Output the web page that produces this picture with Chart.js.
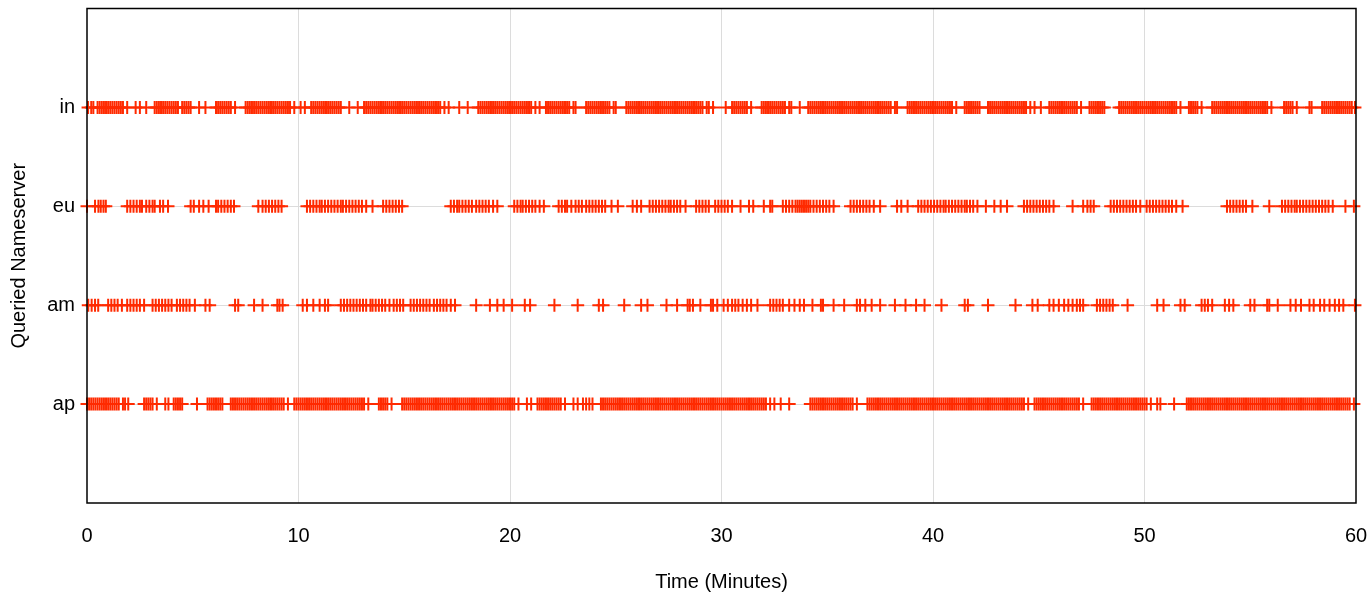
<!DOCTYPE html>
<html>
<head>
<meta charset="utf-8">
<script src="https://cdn.jsdelivr.net/npm/chart.js@4"></script>
<style>
  html, body { margin: 0; padding: 0; background: #fff; }
  #wrap { width: 1369px; height: 598px; }
</style>
</head>
<body>
<div id="wrap"><canvas id="chart"></canvas></div>
<script>
// nameservers, bottom to top
const servers = ['ap', 'am', 'eu', 'in'];
const xTicks = [0, 10, 20, 30, 40, 50, 60];

// query times (minutes) per nameserver
const inTimes = [0.05,0.2,0.3,0.5,0.6,0.7,0.8,0.9,1.0,1.1,1.2,1.3,1.4,1.5,1.6,1.7,1.9,
  2.3,2.5,2.8,
  3.2,3.3,3.4,3.5,3.6,3.7,3.8,3.9,4.0,4.1,4.2,4.3,4.5,4.6,4.7,4.8,4.9,
  5.3,5.6,
  6.1,6.2,6.3,6.4,6.5,6.6,6.7,6.8,7.0,
  7.5,7.6,7.7,7.8,7.9,8.0,8.1,8.2,8.3,8.4,8.5,8.6,8.7,8.8,8.9,9.0,9.1,9.2,9.3,9.4,9.5,9.6,9.8,
  10.1,10.3,
  10.6,10.7,10.8,10.9,11.0,11.1,11.2,11.3,11.4,11.5,11.6,11.7,11.8,11.9,12.0,
  12.4,12.8,
  13.1,13.2,13.3,13.4,13.5,13.6,13.7,13.8,13.9,14.0,14.1,14.2,14.3,14.4,14.5,14.6,14.7,14.8,14.9,15.0,15.1,15.2,15.3,15.4,15.5,15.6,15.7,15.8,15.9,16.0,16.1,16.2,16.3,16.4,16.5,16.6,16.7,16.9,17.1,
  17.6,18.0,
  18.5,18.6,18.7,18.8,18.9,19.0,19.1,19.2,19.3,19.4,19.5,19.6,19.7,19.8,19.9,20.0,20.1,20.2,20.3,20.4,20.5,20.6,20.7,20.8,20.9,21.0,21.2,21.4,
  21.7,21.8,21.9,22.0,22.1,22.2,22.3,22.4,22.5,22.6,22.7,22.8,23.0,23.1,
  23.6,23.7,23.8,23.9,24.0,24.1,24.2,24.3,24.4,24.5,24.6,24.7,24.9,25.0,
  25.5,25.6,25.7,25.8,25.9,26.0,26.1,26.2,26.3,26.4,26.5,26.6,26.7,26.8,26.9,27.0,27.1,27.2,27.3,27.4,27.5,27.6,27.7,27.8,27.9,28.0,28.1,28.2,28.3,28.4,28.5,28.6,28.7,28.8,28.9,29.0,29.1,29.3,29.4,
  29.6,30.2,
  30.5,30.6,30.7,30.8,30.9,31.0,31.1,31.2,31.4,
  31.9,32.0,32.1,32.2,32.3,32.4,32.5,32.6,32.7,32.8,32.9,33.0,33.2,33.3,
  33.7,
  34.1,34.2,34.3,34.4,34.5,34.6,34.7,34.8,34.9,35.0,35.1,35.2,35.3,35.4,35.5,35.6,35.7,35.8,35.9,36.0,36.1,36.2,36.3,36.4,36.5,36.6,36.7,36.8,36.9,37.0,37.1,37.2,37.3,37.4,37.5,37.6,37.7,37.8,37.9,38.0,38.2,38.3,
  38.8,38.9,39.0,39.1,39.2,39.3,39.4,39.5,39.6,39.7,39.8,39.9,40.0,40.1,40.2,40.3,40.4,40.5,40.6,40.7,40.8,40.9,41.1,
  41.5,41.6,41.7,41.8,41.9,42.0,42.1,42.2,
  42.6,42.7,42.8,42.9,43.0,43.1,43.2,43.3,43.4,43.5,43.6,43.7,43.8,43.9,44.0,44.1,44.2,44.3,44.4,44.6,44.8,
  45.1,
  45.5,45.6,45.7,45.8,45.9,46.0,46.1,46.2,46.3,46.4,46.5,46.6,46.7,46.8,47.0,
  47.4,47.5,47.6,47.7,47.8,47.9,48.0,48.1,
  48.8,48.9,49.0,49.1,49.2,49.3,49.4,49.5,49.6,49.7,49.8,49.9,50.0,50.1,50.2,50.3,50.4,50.5,50.6,50.7,50.8,50.9,51.0,51.1,51.2,51.3,51.4,51.5,51.7,
  52.1,52.2,52.3,52.4,52.5,52.7,
  53.2,53.3,53.4,53.5,53.6,53.7,53.8,53.9,54.0,54.1,54.2,54.3,54.4,54.5,54.6,54.7,54.8,54.9,55.0,55.1,55.2,55.3,55.4,55.5,55.6,55.7,55.8,56.0,
  56.6,56.7,56.8,56.9,57.0,57.2,
  57.8,57.9,
  58.4,58.5,58.6,58.7,58.8,58.9,59.0,59.1,59.2,59.3,59.4,59.5,59.6,59.7,59.8,59.95];

const euTimes = [0.0,0.38,0.54,0.65,0.78,0.89,
  1.9,2.05,2.2,2.35,2.5,2.6,2.8,2.95,3.1,3.2,3.45,3.6,3.83,
  4.9,5.05,5.3,5.5,5.75,6.1,6.2,6.35,6.5,6.65,6.8,6.95,
  8.1,8.3,8.45,8.6,8.75,8.9,9.05,9.2,
  10.4,10.55,10.7,10.85,11.0,11.1,11.25,11.4,11.55,11.7,11.85,12.0,12.1,12.25,12.4,12.55,12.7,12.85,13.0,13.2,13.5,
  14.0,14.15,14.3,14.45,14.6,14.75,14.9,
  17.2,17.35,17.5,17.6,17.75,17.9,18.05,18.2,18.4,18.55,18.7,18.85,19.0,19.2,19.4,
  20.2,20.35,20.5,20.6,20.75,20.9,21.05,21.2,21.4,21.6,
  22.3,22.45,22.6,22.7,22.9,23.1,23.25,23.4,23.6,23.75,23.9,24.05,24.2,24.35,24.5,24.8,
  25.1,25.8,26.0,26.2,
  26.6,26.75,26.9,27.05,27.2,27.35,27.5,27.6,27.75,27.9,28.05,28.3,
  28.8,28.95,29.1,29.25,29.4,
  29.7,29.85,30.0,30.15,30.3,30.5,
  30.9,31.3,31.5,32.0,32.3,32.4,
  32.9,33.05,33.2,33.35,33.5,33.6,33.7,33.8,33.9,34.0,34.1,34.2,34.35,34.5,34.65,34.8,34.95,35.1,35.3,
  36.1,36.25,36.4,36.55,36.7,36.85,37.0,37.2,37.5,
  38.3,38.5,38.8,
  39.3,39.45,39.6,39.75,39.9,
  40.05,40.2,40.35,40.5,40.6,40.75,40.9,41.05,41.2,41.35,41.5,41.6,41.75,41.9,42.1,42.5,42.9,43.2,43.5,
  44.3,44.45,44.6,44.75,44.9,45.05,45.2,45.35,45.5,45.7,
  46.6,47.1,47.3,47.45,47.6,
  48.4,48.55,48.7,48.85,49.0,49.15,49.3,49.45,49.6,49.8,
  50.1,50.25,50.4,50.55,50.7,50.85,51.0,51.15,51.3,51.5,51.8,
  53.9,54.05,54.2,54.35,54.5,54.65,54.8,55.1,
  55.9,
  56.5,56.65,56.8,56.95,57.1,57.2,57.35,57.5,57.65,57.8,57.95,58.1,58.25,58.4,58.55,58.7,58.9,
  59.5,59.9];

const amTimes = [0.06,0.22,0.38,0.53,
  1.0,1.15,1.3,1.45,1.65,
  1.9,2.05,2.2,2.35,2.5,2.7,
  3.1,3.25,3.4,3.55,3.7,3.85,4.0,4.25,
  4.4,4.55,4.7,4.85,5.1,
  5.6,5.8,
  7.0,7.15,
  7.9,8.3,
  9.0,9.1,9.25,
  10.2,10.4,10.7,11.0,11.25,11.4,
  12.0,12.15,12.3,12.45,12.6,12.75,12.9,13.05,13.2,13.4,
  13.5,13.65,13.8,13.95,14.1,14.3,14.5,
  14.65,14.8,14.95,
  15.3,15.45,15.6,15.75,15.9,16.05,16.2,16.4,
  16.55,16.7,16.85,17.0,17.2,17.4,
  18.4,19.05,19.4,19.7,
  20.1,20.7,20.95,22.1,23.2,24.2,24.4,25.4,26.2,26.5,
  27.4,27.9,28.4,28.5,28.65,29.0,29.5,29.6,29.8,
  30.1,30.3,30.5,30.65,30.8,31.0,31.2,31.4,31.7,
  32.3,32.45,32.6,32.75,32.9,
  33.2,33.45,33.7,33.9,
  34.3,34.7,34.8,35.3,35.8,
  36.4,36.55,36.8,37.1,37.5,
  38.2,38.7,39.2,39.6,
  40.4,41.5,41.65,42.6,43.9,44.7,44.95,
  45.5,45.7,45.95,46.2,46.4,46.6,46.8,46.95,47.1,
  47.75,47.9,48.05,48.2,48.35,48.5,
  49.2,50.6,50.9,51.7,51.9,
  52.7,52.85,53.0,53.2,
  53.8,54.0,54.2,
  55.0,55.2,55.8,55.9,56.3,
  56.9,57.15,57.4,
  57.8,58.0,58.3,58.5,58.75,59.0,59.2,59.4,
  59.95];

const apTimes = [0.0,0.1,0.2,0.3,0.4,0.5,0.6,0.7,0.8,0.9,1.0,1.1,1.2,1.3,1.4,1.5,1.7,1.8,1.95,
  2.7,2.8,2.9,3.0,3.1,3.3,
  3.7,3.85,
  4.1,4.2,4.3,4.4,4.5,
  5.2,
  5.7,5.8,5.9,6.0,6.1,6.2,6.3,6.4,
  6.8,6.9,7.0,7.1,7.2,7.3,7.4,7.5,7.6,7.7,7.8,7.9,8.0,8.1,8.2,8.3,8.4,8.5,8.6,8.7,8.8,8.9,9.0,9.1,9.2,9.3,9.5,
  9.8,9.9,10.0,10.1,10.2,10.3,10.4,10.5,10.6,10.7,10.8,10.9,11.0,11.1,11.2,11.3,11.4,11.5,11.6,11.7,11.8,11.9,12.0,12.1,12.2,12.3,12.4,12.5,12.6,12.7,12.8,12.9,13.0,13.1,13.3,
  13.8,13.9,14.0,14.1,14.2,14.4,
  14.9,15.0,15.1,15.2,15.3,15.4,15.5,15.6,15.7,15.8,15.9,16.0,16.1,16.2,16.3,16.4,16.5,16.6,16.7,16.8,16.9,17.0,17.1,17.2,17.3,17.4,17.5,17.6,17.7,17.8,17.9,18.0,18.1,18.2,18.3,18.4,18.5,18.6,18.7,18.8,18.9,19.0,19.1,19.2,19.3,19.4,19.5,19.6,19.7,19.8,19.9,20.0,20.1,20.2,20.4,
  20.8,21.0,
  21.3,21.4,21.5,21.6,21.7,21.8,21.9,22.0,22.1,22.2,22.3,22.4,22.6,
  23.0,23.2,23.45,
  23.6,23.75,23.9,
  24.3,24.4,24.5,24.6,24.7,24.8,24.9,25.0,25.1,25.2,25.3,25.4,25.5,25.6,25.7,25.8,25.9,26.0,26.1,26.2,26.3,26.4,26.5,26.6,26.7,26.8,26.9,27.0,27.1,27.2,27.3,27.4,27.5,27.6,27.7,27.8,27.9,28.0,28.1,28.2,28.3,28.4,28.5,28.6,28.7,28.8,28.9,29.0,29.1,29.2,29.3,29.4,29.5,29.6,29.7,29.8,29.9,30.0,30.1,30.2,30.3,30.4,30.5,30.6,30.7,30.8,30.9,31.0,31.1,31.2,31.3,31.4,31.5,31.6,31.7,31.8,31.9,32.0,32.1,32.3,
  32.5,32.8,33.2,
  34.2,34.3,34.4,34.5,34.6,34.7,34.8,34.9,35.0,35.1,35.2,35.3,35.4,35.5,35.6,35.7,35.8,35.9,36.0,36.1,36.2,36.4,
  36.9,37.0,37.1,37.2,37.3,37.4,37.5,37.6,37.7,37.8,37.9,38.0,38.1,38.2,38.3,38.4,38.5,38.6,38.7,38.8,38.9,39.0,39.1,39.2,39.3,39.4,39.5,39.6,39.7,39.8,39.9,40.0,40.1,40.2,40.3,40.4,40.5,40.6,40.7,40.8,40.9,41.0,41.1,41.2,41.3,41.4,41.5,41.6,41.7,41.8,41.9,42.0,42.1,42.2,42.3,42.4,42.5,42.6,42.7,42.8,42.9,43.0,43.1,43.2,43.3,43.4,43.5,43.6,43.7,43.8,43.9,44.0,44.1,44.2,44.3,44.5,
  44.8,44.9,45.0,45.1,45.2,45.3,45.4,45.5,45.6,45.7,45.8,45.9,46.0,46.1,46.2,46.3,46.4,46.5,46.6,46.7,46.8,46.9,47.1,
  47.5,47.6,47.7,47.8,47.9,48.0,48.1,48.2,48.3,48.4,48.5,48.6,48.7,48.8,48.9,49.0,49.1,49.2,49.3,49.4,49.5,49.6,49.7,49.8,49.9,50.0,50.1,50.3,
  50.6,50.75,51.4,
  52.0,52.1,52.2,52.3,52.4,52.5,52.6,52.7,52.8,52.9,53.0,53.1,53.2,53.3,53.4,53.5,53.6,53.7,53.8,53.9,54.0,54.1,54.2,54.3,54.4,54.5,54.6,54.7,54.8,54.9,55.0,55.1,55.2,55.3,55.4,55.5,55.6,55.7,55.8,55.9,56.0,56.1,56.2,56.3,56.4,56.5,56.6,56.7,56.8,56.9,57.0,57.1,57.2,57.3,57.4,57.5,57.6,57.7,57.8,57.9,58.0,58.1,58.2,58.3,58.4,58.5,58.6,58.7,58.8,58.9,59.0,59.1,59.2,59.3,59.4,59.5,59.6,59.7,59.9];

const timesByServer = { ap: apTimes, am: amTimes, eu: euTimes, in: inTimes };

const markColor = '#ff2a00';
const font = { family: '"Liberation Sans", Arial, sans-serif', size: 20 };

// black frame round the plot area, drawn over the marks like the original
const framePlugin = {
  id: 'frame',
  afterDatasetsDraw(chart) {
    const { ctx, chartArea: a } = chart;
    ctx.save();
    ctx.strokeStyle = '#000';
    ctx.lineWidth = 1.5;
    ctx.strokeRect(a.left, a.top, a.right - a.left, a.bottom - a.top);
    ctx.restore();
  }
};

const datasets = servers.map((name, i) => ({
  label: name,
  data: timesByServer[name].map(t => ({ x: t, y: i + 1 })),
  pointStyle: 'cross',
  pointRadius: 6.5,
  pointBorderWidth: 2,
  borderColor: markColor,
  backgroundColor: markColor,
  showLine: false,
  clip: false
}));

new Chart(document.getElementById('chart'), {
  type: 'scatter',
  data: { datasets },
  options: {
    responsive: true,
    maintainAspectRatio: false,
    animation: false,
    layout: { padding: { top: 7, right: 13, left: 0, bottom: 0 } },
    plugins: {
      legend: { display: false },
      tooltip: { enabled: false }
    },
    scales: {
      x: {
        type: 'linear',
        min: 0,
        max: 60,
        afterBuildTicks: s => { s.ticks = xTicks.map(v => ({ value: v })); },
        afterFit: s => { s.height = 95; s.paddingLeft = 0; s.paddingRight = 0; },
        border: { display: false },
        grid: {
          color: c => (c.tick.value === 0 || c.tick.value === 60) ? 'rgba(0,0,0,0)' : '#dcdcdc',
          lineWidth: 1,
          drawTicks: false
        },
        ticks: { color: '#000', font, padding: 21, maxRotation: 0 },
        title: { display: true, text: 'Time (Minutes)', color: '#000', font, padding: { top: 0, bottom: 4 } }
      },
      y: {
        type: 'linear',
        min: 0,
        max: 5,
        afterBuildTicks: s => { s.ticks = servers.map((n, i) => ({ value: i + 1 })); },
        afterFit: s => { s.width = 87; s.paddingTop = 0; s.paddingBottom = 0; },
        border: { display: false },
        grid: { color: '#dcdcdc', lineWidth: 1, drawTicks: false },
        ticks: {
          color: '#000',
          font,
          padding: 12,
          callback: v => servers[v - 1] || ''
        },
        title: { display: true, text: 'Queried Nameserver', color: '#000', font, padding: { top: 7, bottom: 0 } }
      }
    }
  },
  plugins: [framePlugin]
});
</script>
</body>
</html>
